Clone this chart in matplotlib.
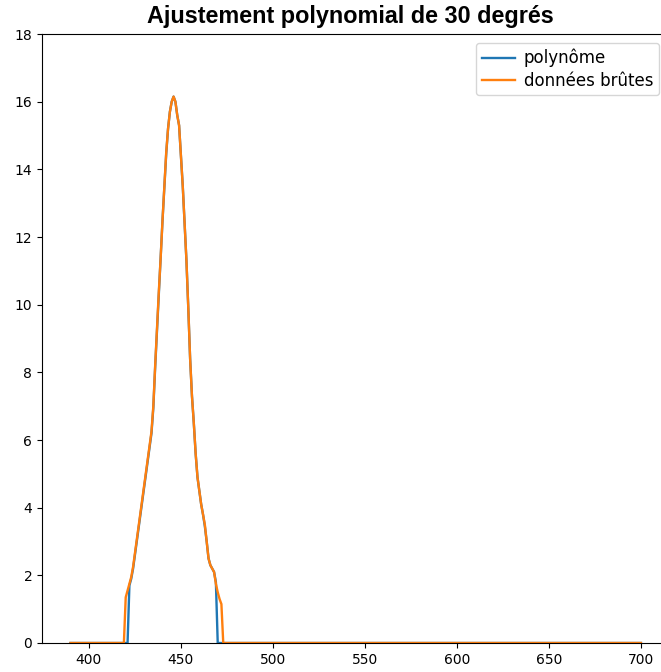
import matplotlib.pyplot as plt
import numpy as np

# longueurs d'onde (nm)
wavelength = np.arange(390, 701)

# données brûtes entre 420 et 472 nm, zéro ailleurs
raw_x = np.arange(420, 473)
raw_y = [1.35, 1.55, 1.75, 1.95, 2.25, 2.65, 3.05, 3.45, 3.85, 4.25,
         4.65, 5.05, 5.45, 5.85, 6.25, 7.0, 8.2, 9.3, 10.4, 11.4,
         12.5, 13.5, 14.5, 15.2, 15.7, 16.0, 16.15, 16.0, 15.6, 15.3,
         14.4, 13.5, 12.4, 11.3, 9.9, 8.4, 7.3, 6.5, 5.6, 4.9,
         4.5, 4.1, 3.8, 3.5, 3.0, 2.5, 2.3, 2.2, 2.1, 1.75,
         1.5, 1.3, 1.15]

# polynôme de degré 30, tronqué hors de [422, 469]
poly_x = np.arange(422, 470)
poly_y = [1.7, 1.9, 2.2, 2.6, 3.0, 3.4, 3.8, 4.2,
          4.6, 5.0, 5.4, 5.8, 6.2, 6.95, 8.15, 9.25, 10.35, 11.4,
          12.5, 13.5, 14.45, 15.2, 15.7, 16.0, 16.15, 16.0, 15.6, 15.3,
          14.4, 13.5, 12.4, 11.3, 9.9, 8.4, 7.3, 6.5, 5.6, 4.9,
          4.5, 4.1, 3.8, 3.45, 3.0, 2.5, 2.3, 2.2, 2.1, 1.8]

donnees = np.zeros(len(wavelength))
donnees[np.isin(wavelength, raw_x)] = raw_y
polynome = np.zeros(len(wavelength))
polynome[np.isin(wavelength, poly_x)] = poly_y

fig = plt.figure(figsize=(6.61, 6.72), dpi=100)
# le bord droit du graphique sort de l'image, comme sur l'original
ax = fig.add_axes([42 / 661, 29 / 672, 658 / 661, 609 / 672])

ax.plot(wavelength, polynome, label='polynôme', lw=1.7)
ax.plot(wavelength, donnees, label='données brûtes', lw=1.7)
ax.set_xlim(374.5, 732.1)
ax.set_xticks(np.arange(400, 701, 50))
ax.set_ylim(0, 18)
ax.set_yticks(np.arange(0, 19, 2))
ax.set_title('Ajustement polynomial de 30 degrés', fontweight='bold',
             fontsize=16.8, family='Liberation Sans', pad=8,
             x=(350 - 42) / 658)
ax.legend(loc='upper right', fontsize=12, labelspacing=0.25,
          handlelength=2.0, handletextpad=0.5, borderpad=0.35,
          bbox_to_anchor=(659 / 661, 1 - 43 / 672),
          bbox_transform=fig.transFigure, borderaxespad=0)

fig.savefig('out.png', dpi=100)
